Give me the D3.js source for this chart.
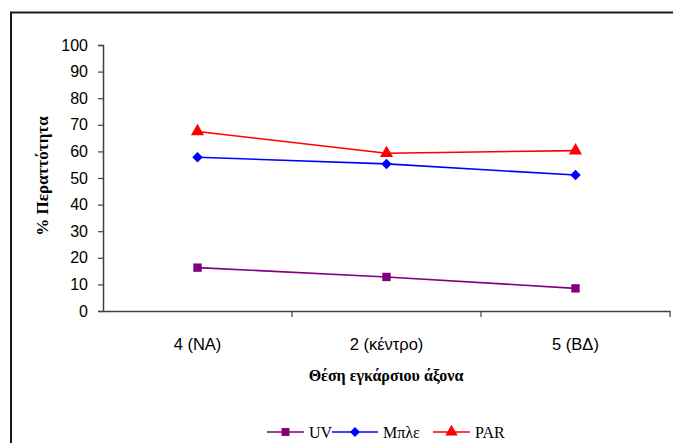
<!DOCTYPE html>
<html><head><meta charset="utf-8">
<script src="https://cdn.jsdelivr.net/npm/d3@7"></script>
<style>body{margin:0;background:#fff}svg{display:block}</style>
</head><body>
<script>
const categories = ["4 (ΝΑ)", "2 (κέντρο)", "5 (ΒΔ)"];
const uv = [16.3, 12.8, 8.5];
const blue = [57.8, 55.3, 51.1];
const par = [67.5, 59.3, 60.3];
const yTicks = [0,10,20,30,40,50,60,70,80,90,100];
const seriesNames = ["UV", "Μπλε", "PAR"];

const W = 673, H = 443;
const svg = d3.select("body").append("svg").attr("width", W).attr("height", H);

// outer frame
svg.append("rect").attr("x", 11).attr("y", 12.5).attr("width", 700).attr("height", 500)
  .attr("fill", "none").attr("stroke", "#1a1a1a").attr("stroke-width", 2);

const x = d3.scaleBand().domain(categories).range([103, 670]).padding(0);
const y = d3.scaleLinear().domain([0, 100]).range([311, 45]);

const axisColor = "#404040";
// y axis
const yAxis = svg.append("g").attr("transform", "translate(103,0)")
  .call(d3.axisLeft(y).tickValues(yTicks).tickSize(5).tickPadding(10).tickFormat(d3.format("d")));
yAxis.select(".domain").attr("stroke", axisColor).attr("stroke-width", 1.5);
yAxis.selectAll(".tick line").attr("stroke", axisColor).attr("stroke-width", 1.2);
yAxis.selectAll("text").attr("font-family", "Liberation Sans, Arial, sans-serif").attr("font-size", 16).attr("fill", "#000");

// x axis
const xAxis = svg.append("g").attr("transform", "translate(0,311)")
  .call(d3.axisBottom(x).tickSize(0).tickPadding(27));
xAxis.select(".domain").attr("stroke", axisColor).attr("stroke-width", 1.5);
xAxis.selectAll("text").attr("font-family", "Liberation Sans, Arial, sans-serif").attr("font-size", 16.5).attr("fill", "#000");
// boundary ticks
const bounds = categories.map(c => x(c)).concat([x.range()[1]]);
svg.append("g").selectAll("line").data(bounds.slice(1)).join("line")
  .attr("x1", d => d).attr("x2", d => d).attr("y1", 311).attr("y2", 317)
  .attr("stroke", axisColor).attr("stroke-width", 1.2);

const cx = c => x(c) + x.bandwidth() / 2;
const line = d3.line().x((d, i) => cx(categories[i])).y(d => y(d));

const series = [
  {name: seriesNames[0], vals: uv, color: "#800080", sym: d3.symbolSquare, size: 70, rot: 0},
  {name: seriesNames[1], vals: blue, color: "#0000FF", sym: d3.symbolSquare, size: 55, rot: 45},
  {name: seriesNames[2], vals: par, color: "#FF0000", sym: d3.symbolTriangle, size: 75, rot: 0}
];

series.forEach(s => {
  svg.append("path").datum(s.vals).attr("d", line).attr("fill", "none")
    .attr("stroke", s.color).attr("stroke-width", 1.6);
  svg.append("g").selectAll("path").data(s.vals).join("path")
    .attr("d", d3.symbol().type(s.sym).size(s.size))
    .attr("transform", (d, i) => `translate(${cx(categories[i])},${y(d)}) rotate(${s.rot})`)
    .attr("fill", s.color);
});

// axis titles
svg.append("text").attr("x", 386).attr("y", 381).attr("text-anchor", "middle")
  .attr("font-family", "Liberation Serif, Times New Roman, serif").attr("font-weight", "bold")
  .attr("font-size", 16).text("Θέση εγκάρσιου άξονα");
svg.append("text").attr("transform", "translate(48,176) rotate(-90)").attr("text-anchor", "middle")
  .attr("font-family", "Liberation Serif, Times New Roman, serif").attr("font-weight", "bold")
  .attr("font-size", 17).text("% Περαττότητα");

// legend
const legX = [267, 332, 433];
const legLen = [37, 46, 37];
const lg = svg.append("g");
series.forEach((s, i) => {
  const g = lg.append("g").attr("transform", `translate(${legX[i]},432)`);
  g.append("line").attr("x1", 0).attr("x2", legLen[i]).attr("y1", 0).attr("y2", 0)
    .attr("stroke", s.color).attr("stroke-width", 1.6);
  g.append("path").attr("d", d3.symbol().type(s.sym).size(s.size * 0.9))
    .attr("transform", `translate(${legLen[i] / 2},0) rotate(${s.rot})`)
    .attr("fill", s.color);
  g.append("text").attr("x", legLen[i] + 5).attr("y", 5.5).attr("font-family", "Liberation Serif, Times New Roman, serif")
    .attr("font-size", 16).text(s.name);
});
</script>
</body></html>
